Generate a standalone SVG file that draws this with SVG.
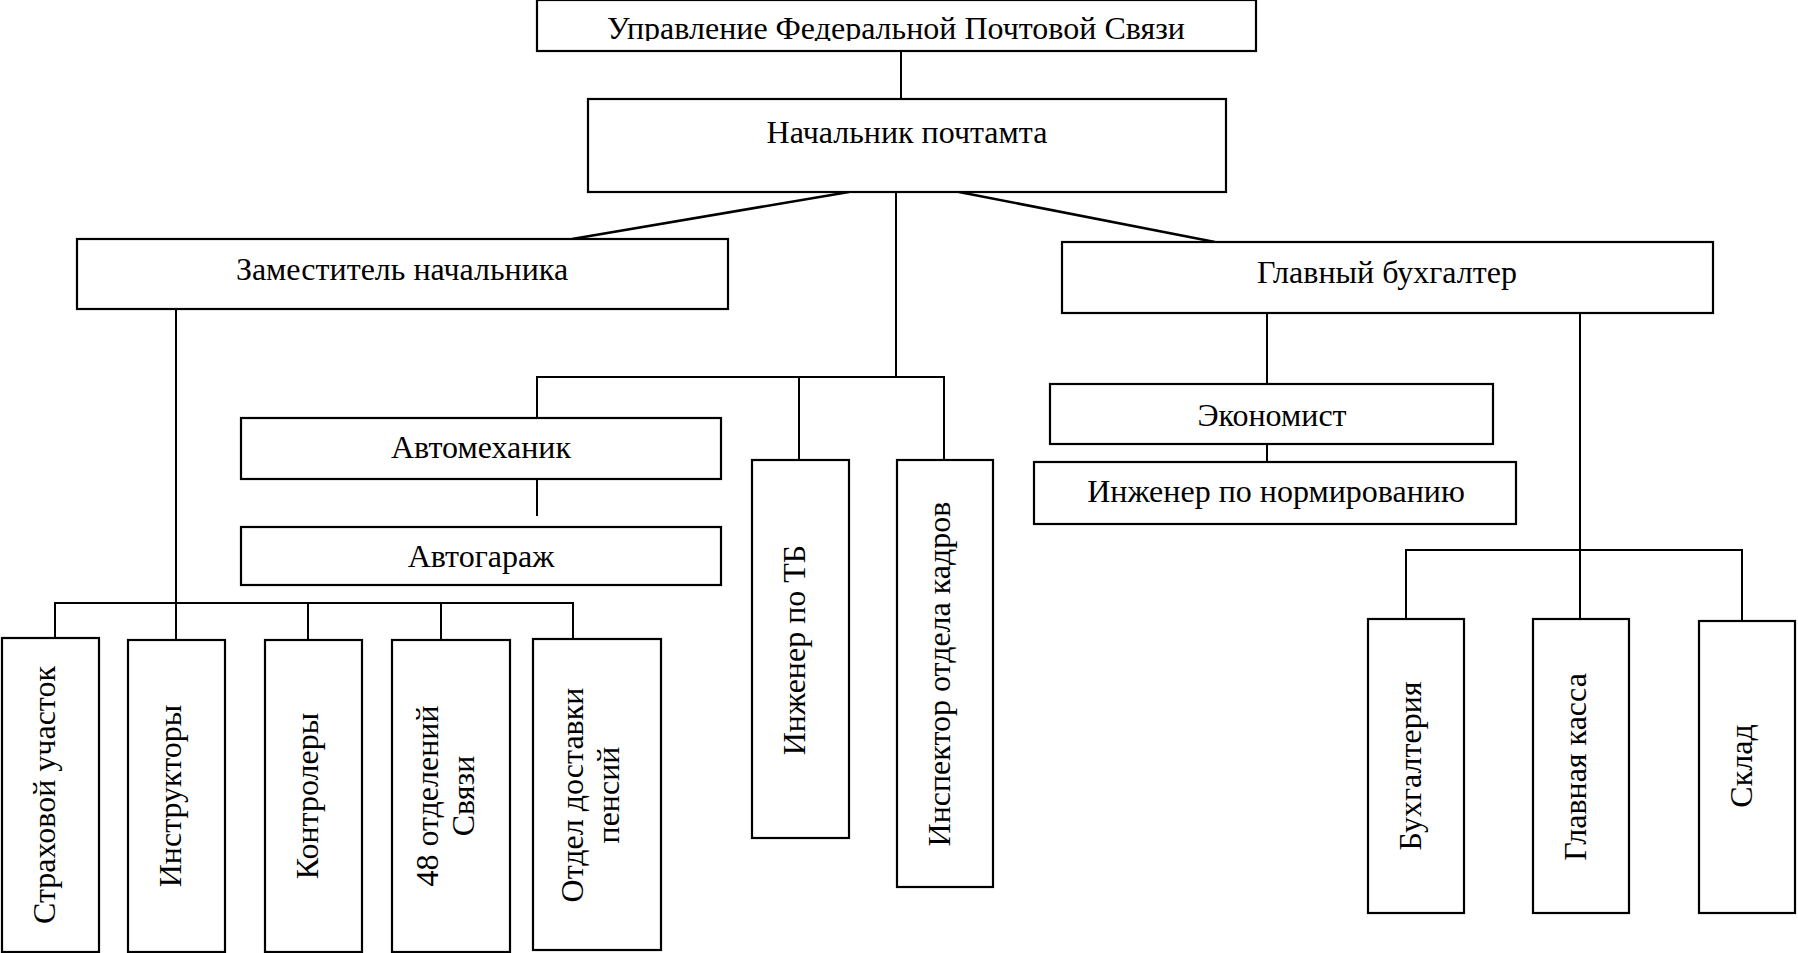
<svg xmlns="http://www.w3.org/2000/svg" width="1798" height="953" viewBox="0 0 1798 953">
<style>
.box{fill:#fff;stroke:#000;stroke-width:2.2}
.t{font-family:"Liberation Serif","Times New Roman",serif;font-size:32px;fill:#000;text-anchor:middle}
.c{fill:none;stroke:#000;stroke-width:2}
.d{fill:none;stroke:#000;stroke-width:2.6}
</style>
<defs>
<clipPath id="clipTitle"><rect x="537" y="0" width="720" height="41"/></clipPath>
</defs>
<rect width="1798" height="953" fill="#fff"/>
<g id="connectors">
<line class="c" x1="901" y1="51" x2="901" y2="99"/>
<line class="d" x1="849" y1="192" x2="572" y2="239"/>
<line class="d" x1="959" y1="192" x2="1215" y2="242"/>
<line class="c" x1="896" y1="192" x2="896" y2="377"/>
<polyline class="c" points="537,418 537,377 944,377 944,460"/>
<line class="c" x1="799" y1="377" x2="799" y2="460"/>
<line class="c" x1="537" y1="473" x2="537" y2="516"/>
<line class="c" x1="176" y1="297" x2="176" y2="640"/>
<polyline class="c" points="55,638 55,603 573,603 573,639"/>
<line class="c" x1="308" y1="603" x2="308" y2="640"/>
<line class="c" x1="441" y1="603" x2="441" y2="640"/>
<line class="c" x1="1267" y1="307" x2="1267" y2="384"/>
<line class="c" x1="1267" y1="438" x2="1267" y2="462"/>
<line class="c" x1="1580" y1="308" x2="1580" y2="619"/>
<polyline class="c" points="1406,619 1406,550 1742,550 1742,621"/>
</g>
<g id="n-upravlenie">
<rect class="box" x="537" y="0" width="719" height="51"/>
<text class="t" x="896" y="39" clip-path="url(#clipTitle)">Управление Федеральной Почтовой Связи</text>
</g>
<g id="n-nachalnik">
<rect class="box" x="588" y="99" width="638" height="93"/>
<text class="t" x="907" y="143">Начальник почтамта</text>
</g>
<g id="n-zam">
<rect class="box" x="77" y="239" width="651" height="70"/>
<text class="t" x="402" y="280">Заместитель начальника</text>
</g>
<g id="n-glavbuh">
<rect class="box" x="1062" y="242" width="651" height="71"/>
<text class="t" x="1387" y="283">Главный бухгалтер</text>
</g>
<g id="n-avtomeh">
<rect class="box" x="241" y="418" width="480" height="61"/>
<text class="t" x="481" y="458">Автомеханик</text>
</g>
<g id="n-avtogarazh">
<rect class="box" x="241" y="527" width="480" height="58"/>
<text class="t" x="481" y="567">Автогараж</text>
</g>
<g id="n-ekonomist">
<rect class="box" x="1050" y="384" width="443" height="60"/>
<text class="t" x="1272" y="426">Экономист</text>
</g>
<g id="n-normir">
<rect class="box" x="1034" y="462" width="482" height="62"/>
<text class="t" x="1276" y="502">Инженер по нормированию</text>
</g>
<g id="n-tb">
<rect class="box" x="752" y="460" width="97" height="378"/>
<text class="t" transform="translate(805,650) rotate(-90)">Инженер по ТБ</text>
</g>
<g id="n-kadry">
<rect class="box" x="897" y="460" width="96" height="427"/>
<text class="t" transform="translate(950,674) rotate(-90)">Инспектор отдела кадров</text>
</g>
<g id="n-strah">
<rect class="box" x="2" y="638" width="97" height="314"/>
<text class="t" transform="translate(55,795) rotate(-90)">Страховой участок</text>
</g>
<g id="n-instr">
<rect class="box" x="128" y="640" width="97" height="312"/>
<text class="t" transform="translate(181,796) rotate(-90)">Инструкторы</text>
</g>
<g id="n-kontr">
<rect class="box" x="265" y="640" width="97" height="312"/>
<text class="t" transform="translate(318,796) rotate(-90)">Контролеры</text>
</g>
<g id="n-48">
<rect class="box" x="392" y="640" width="118" height="312"/>
<text class="t" transform="translate(438,796) rotate(-90)">48 отделений</text>
<text class="t" transform="translate(474,796) rotate(-90)">Связи</text>
</g>
<g id="n-dostavka">
<rect class="box" x="533" y="639" width="128" height="311"/>
<text class="t" transform="translate(583,795) rotate(-90)">Отдел доставки</text>
<text class="t" transform="translate(619,795) rotate(-90)">пенсий</text>
</g>
<g id="n-buh">
<rect class="box" x="1368" y="619" width="96" height="294"/>
<text class="t" transform="translate(1421,766) rotate(-90)">Бухгалтерия</text>
</g>
<g id="n-kassa">
<rect class="box" x="1533" y="619" width="96" height="294"/>
<text class="t" transform="translate(1586,767) rotate(-90)">Главная касса</text>
</g>
<g id="n-sklad">
<rect class="box" x="1699" y="621" width="96" height="292"/>
<text class="t" transform="translate(1752,766) rotate(-90)">Склад</text>
</g>
</svg>
